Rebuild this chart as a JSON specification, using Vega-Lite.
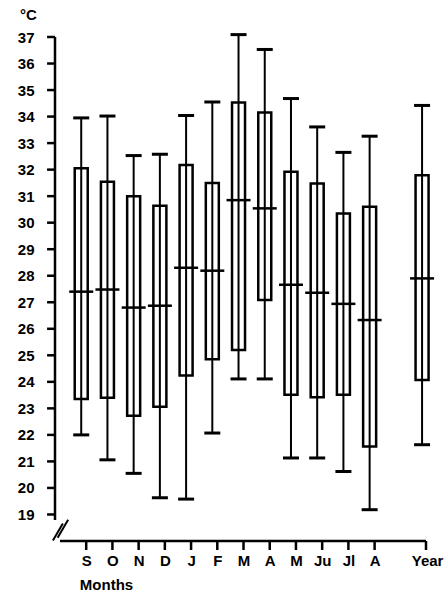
{
  "$schema": "https://vega.github.io/schema/vega-lite/v6.json",
  "autosize": "none",
  "width": 381,
  "height": 504,
  "padding": {"left": 50, "top": 37, "right": 14, "bottom": 54},
  "background": "white",
  "config": {
    "view": {"stroke": null},
    "axis": {
      "grid": false,
      "domain": false,
      "ticks": false,
      "labelOverlap": false,
      "labelFlush": false,
      "labelFont": "Liberation Sans",
      "labelFontWeight": "bold",
      "labelFontSize": 15,
      "labelColor": "black",
      "titleFont": "Liberation Sans",
      "titleFontWeight": "bold",
      "titleFontSize": 15,
      "titleColor": "black"
    }
  },
  "datasets": {
    "stats": [
      {"month": "S", "pos": 1, "lo": 22.0, "q1": 23.35, "med": 27.4, "q3": 32.05, "hi": 33.95},
      {"month": "O", "pos": 2, "lo": 21.06, "q1": 23.4, "med": 27.48, "q3": 31.54, "hi": 34.02},
      {"month": "N", "pos": 3, "lo": 20.55, "q1": 22.72, "med": 26.8, "q3": 31.0, "hi": 32.53},
      {"month": "D", "pos": 4, "lo": 19.63, "q1": 23.06, "med": 26.87, "q3": 30.64, "hi": 32.58},
      {"month": "J", "pos": 5, "lo": 19.58, "q1": 24.24, "med": 28.3, "q3": 32.17, "hi": 34.04},
      {"month": "F", "pos": 6, "lo": 22.07, "q1": 24.85, "med": 28.19, "q3": 31.5, "hi": 34.55},
      {"month": "M", "pos": 7, "lo": 24.11, "q1": 25.2, "med": 30.85, "q3": 34.53, "hi": 37.09},
      {"month": "A", "pos": 8, "lo": 24.11, "q1": 27.09, "med": 30.54, "q3": 34.15, "hi": 36.53},
      {"month": "M", "pos": 9, "lo": 21.13, "q1": 23.51, "med": 27.66, "q3": 31.92, "hi": 34.68},
      {"month": "Ju", "pos": 10, "lo": 21.13, "q1": 23.42, "med": 27.36, "q3": 31.48, "hi": 33.61},
      {"month": "Jl", "pos": 11, "lo": 20.62, "q1": 23.51, "med": 26.94, "q3": 30.35, "hi": 32.65},
      {"month": "A", "pos": 12, "lo": 19.18, "q1": 21.56, "med": 26.33, "q3": 30.6, "hi": 33.26},
      {"month": "Year", "pos": 14, "lo": 21.63, "q1": 24.07, "med": 27.9, "q3": 31.79, "hi": 34.42}
    ],
    "axislines": [
      {"x": 0, "y": 18.79, "x2": 0, "y2": 37},
      {"x": 0.19, "y": 18, "x2": 14.15, "y2": 18}
    ],
    "breaks": [
      {"x": -0.08, "y": 18.02, "x2": 0.3, "y2": 18.66},
      {"x": 0.1, "y": 18.12, "x2": 0.5, "y2": 18.8}
    ],
    "yticks": [
      {"v": 19}, {"v": 20}, {"v": 21}, {"v": 22}, {"v": 23}, {"v": 24}, {"v": 25},
      {"v": 26}, {"v": 27}, {"v": 28}, {"v": 29}, {"v": 30}, {"v": 31}, {"v": 32},
      {"v": 33}, {"v": 34}, {"v": 35}, {"v": 36}, {"v": 37}
    ],
    "xticks": [
      {"t": 1.19}, {"t": 2.19}, {"t": 3.19}, {"t": 4.19}, {"t": 5.19}, {"t": 6.19},
      {"t": 7.19}, {"t": 8.19}, {"t": 9.19}, {"t": 10.19}, {"t": 11.19}, {"t": 12.19}, {"t": 14.15}
    ]
  },
  "encoding": {
    "x": {
      "type": "quantitative",
      "scale": {"domain": [0, 14.15], "nice": false, "zero": false},
      "axis": {
        "values": [1, 2, 3, 4, 5, 6, 7, 8, 9, 10, 11, 12, 14],
        "labelExpr": "['','S','O','N','D','J','F','M','A','M','Ju','Jl','A','','Year'][datum.value]",
        "tickOffset": 5,
        "labelPadding": 12,
        "title": "Months",
        "titleAlign": "center",
        "titleBaseline": "alphabetic",
        "titleX": 56,
        "titleY": 48
      }
    },
    "y": {
      "type": "quantitative",
      "scale": {"domain": [18, 37], "nice": false, "zero": false},
      "axis": {
        "values": [19, 20, 21, 22, 23, 24, 25, 26, 27, 28, 29, 30, 31, 32, 33, 34, 35, 36, 37],
        "labelPadding": 16,
        "title": "°C",
        "titleAngle": 0,
        "titleAlign": "center",
        "titleBaseline": "alphabetic",
        "titleX": -22,
        "titleY": -18
      }
    }
  },
  "layer": [
    {
      "data": {"name": "axislines"},
      "mark": {"type": "rule", "color": "black", "strokeWidth": 2.5},
      "encoding": {
        "x": {"field": "x", "type": "quantitative"},
        "x2": {"field": "x2"},
        "y": {"field": "y", "type": "quantitative"},
        "y2": {"field": "y2"}
      }
    },
    {
      "data": {"name": "breaks"},
      "mark": {"type": "rule", "color": "black", "strokeWidth": 2},
      "encoding": {
        "x": {"field": "x", "type": "quantitative"},
        "x2": {"field": "x2"},
        "y": {"field": "y", "type": "quantitative"},
        "y2": {"field": "y2"}
      }
    },
    {
      "data": {"name": "yticks"},
      "mark": {"type": "tick", "orient": "horizontal", "size": 8, "thickness": 2.5, "color": "black", "opacity": 1},
      "encoding": {
        "x": {"datum": -0.15, "type": "quantitative"},
        "y": {"field": "v", "type": "quantitative"}
      }
    },
    {
      "data": {"name": "xticks"},
      "mark": {"type": "tick", "orient": "vertical", "size": 9, "thickness": 2.5, "color": "black", "opacity": 1},
      "encoding": {
        "x": {"field": "t", "type": "quantitative"},
        "y": {"datum": 17.83, "type": "quantitative"}
      }
    },
    {
      "data": {"name": "stats"},
      "mark": {"type": "rule", "color": "black", "strokeWidth": 2},
      "encoding": {
        "x": {"field": "pos", "type": "quantitative"},
        "y": {"field": "lo", "type": "quantitative"},
        "y2": {"field": "hi"}
      }
    },
    {
      "data": {"name": "stats"},
      "mark": {"type": "bar", "size": 13, "fill": "white", "fillOpacity": 0, "stroke": "black", "strokeWidth": 2.5},
      "encoding": {
        "x": {"field": "pos", "type": "quantitative"},
        "y": {"field": "q1", "type": "quantitative"},
        "y2": {"field": "q3"}
      }
    },
    {
      "data": {"name": "stats"},
      "mark": {"type": "tick", "orient": "horizontal", "size": 16, "thickness": 3, "color": "black", "opacity": 1},
      "encoding": {
        "x": {"field": "pos", "type": "quantitative"},
        "y": {"field": "lo", "type": "quantitative"}
      }
    },
    {
      "data": {"name": "stats"},
      "mark": {"type": "tick", "orient": "horizontal", "size": 16, "thickness": 3, "color": "black", "opacity": 1},
      "encoding": {
        "x": {"field": "pos", "type": "quantitative"},
        "y": {"field": "hi", "type": "quantitative"}
      }
    },
    {
      "data": {"name": "stats"},
      "mark": {"type": "tick", "orient": "horizontal", "size": 24, "thickness": 2.5, "color": "black", "opacity": 1},
      "encoding": {
        "x": {"field": "pos", "type": "quantitative"},
        "y": {"field": "med", "type": "quantitative"}
      }
    }
  ]
}
